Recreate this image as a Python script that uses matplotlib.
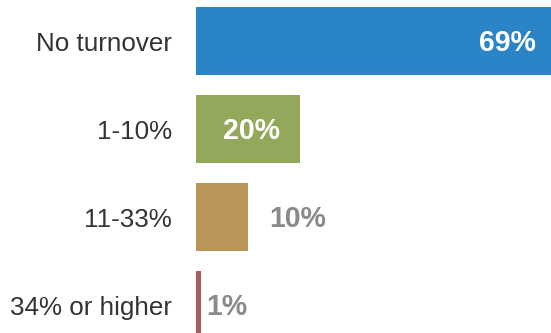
import matplotlib
matplotlib.use("Agg")
import matplotlib.pyplot as plt

# Share of staff turnover by band
categories = ["No turnover", "1-10%", "11-33%", "34% or higher"]
shares = [69, 20, 10, 1]
bar_colors = ["#2a84c5", "#94a85b", "#b99658", "#a95b5b"]
value_labels = ["69%", "20%", "10%", "1%"]

plt.rcParams["font.family"] = ["Liberation Sans", "DejaVu Sans"]

DPI = 100
fig = plt.figure(figsize=(5.51, 3.33), dpi=DPI)
ax = fig.add_axes([196 / 551, 0, 355 / 551, 1])

pt = 72 / DPI  # one pixel in points
ypos = list(range(len(categories)))
ax.barh(ypos, shares, height=0.773, color=bar_colors, linewidth=0)

ax.set_xlim(0, 68)
ax.set_ylim(3.318, -0.466)
ax.set_yticks(ypos)
ax.set_yticklabels(categories, fontsize=26 * pt, color="#333333")
ax.tick_params(axis="y", length=0, pad=24 * pt)
ax.set_xticks([])
for side in ax.spines.values():
    side.set_visible(False)

# wide bars carry their label inside, narrow ones just past the end
outside_pad = {2: 21, 3: 5}
for i, (val, lab) in enumerate(zip(shares, value_labels)):
    if i in outside_pad:
        ax.annotate(lab, (val, i), xytext=(outside_pad[i] * pt, -2 * pt),
                    textcoords="offset points", ha="left", va="center",
                    fontsize=28.5 * pt, fontweight="bold", color="#8a8a8a",
                    annotation_clip=False)
    else:
        ax.annotate(lab, (val, i), xytext=(-20 * pt, -2 * pt),
                    textcoords="offset points", ha="right", va="center",
                    fontsize=28.5 * pt, fontweight="bold", color="white",
                    annotation_clip=False)

fig.savefig("out.png", dpi=DPI)
